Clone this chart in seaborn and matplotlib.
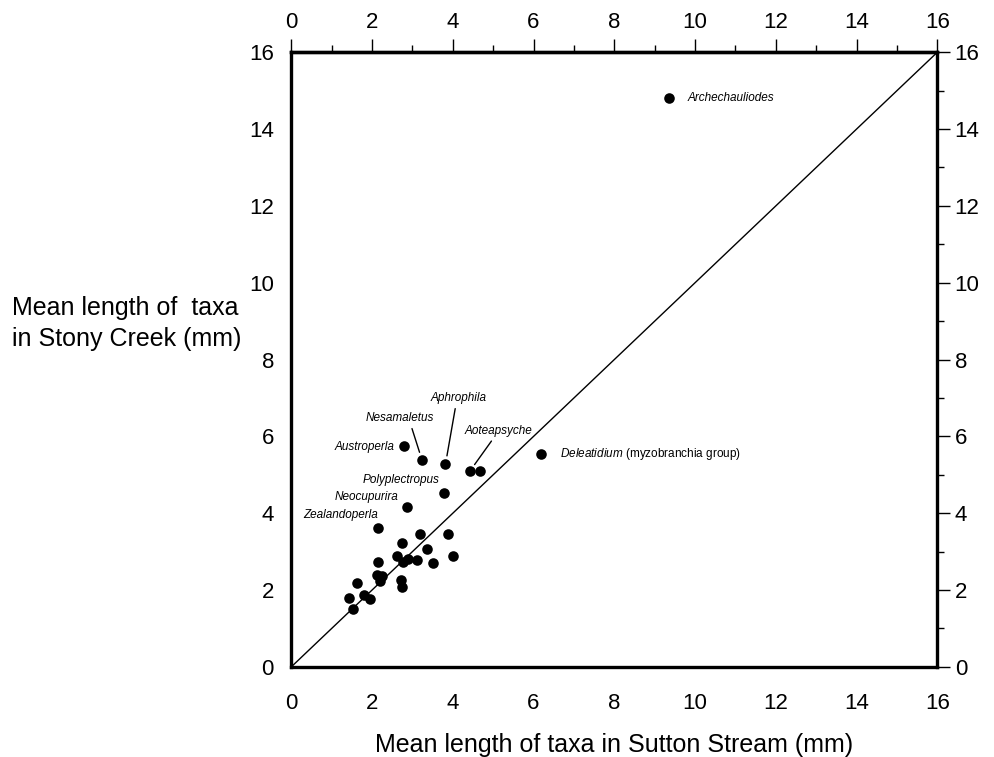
import numpy as np
import matplotlib
matplotlib.use("Agg")
import matplotlib.pyplot as plt
import seaborn as sns
from matplotlib.ticker import MultipleLocator

# mean length of each taxon (mm): Sutton Stream (x) vs Stony Creek (y)
taxa = [
    "Archechauliodes", "Deleatidium", "Austroperla", "Nesamaletus",
    "Aphrophila", "Aoteapsyche", "", "Polyplectropus", "Neocupurira",
    "Zealandoperla",
    "", "", "", "", "", "", "", "", "", "", "",
    "", "", "", "", "", "", "", "", "", "",
]
sutton = [
    9.36, 6.18, 2.79, 3.24, 3.82, 4.42, 4.67, 3.79, 2.86, 2.16,
    3.20, 3.87, 2.74, 3.37, 4.01, 2.62, 2.77, 2.88, 3.11, 3.50, 2.14,
    2.13, 2.24, 2.19, 2.72, 2.75, 1.63, 1.42, 1.80, 1.96, 1.54,
]
stony = [
    14.82, 5.55, 5.74, 5.38, 5.28, 5.09, 5.09, 4.54, 4.15, 3.62,
    3.46, 3.46, 3.22, 3.06, 2.90, 2.89, 2.72, 2.80, 2.78, 2.70, 2.73,
    2.40, 2.36, 2.24, 2.25, 2.08, 2.18, 1.80, 1.87, 1.78, 1.50,
]
line_x = [0, 16]
line_y = [0, 16]

sns.set_style("white")
plt.rcParams["font.family"] = ["Liberation Sans", "DejaVu Sans"]
plt.rcParams["mathtext.fontset"] = "custom"
plt.rcParams["mathtext.it"] = "Liberation Sans:italic"
plt.rcParams["mathtext.rm"] = "Liberation Sans"
for key in ["text.color", "axes.labelcolor", "xtick.color", "ytick.color",
            "xtick.labelcolor", "ytick.labelcolor"]:
    plt.rcParams[key] = "black"

fig = plt.figure(figsize=(9.94, 7.57), dpi=100)
ax = fig.add_axes([0.293, 0.119, 0.650, 0.812])

sns.lineplot(x=line_x, y=line_y, ax=ax, color="black", linewidth=1.0)
sns.scatterplot(x=sutton, y=stony, ax=ax, color="black", s=58,
                edgecolor="black", linewidth=0, zorder=3)

ax.set_xlim(0, 16)
ax.set_ylim(0, 16)
ax.xaxis.set_major_locator(MultipleLocator(2))
ax.xaxis.set_minor_locator(MultipleLocator(1))
ax.yaxis.set_major_locator(MultipleLocator(2))
ax.yaxis.set_minor_locator(MultipleLocator(1))
ax.tick_params(which="both", direction="out", top=False, right=True,
               labeltop=False, labelright=True, color="black",
               labelcolor="black")
ax.tick_params(which="major", length=9.5, width=1.0, labelsize=16)
ax.tick_params(which="minor", length=5, width=1.0)
ax.tick_params(axis="x", which="major", pad=9)
ax.tick_params(axis="y", which="major", pad=3)
for side in ["left", "right", "top", "bottom"]:
    ax.spines[side].set_color("black")
    ax.spines[side].set_linewidth(2.4)

# top axis has its own (smaller) label gap
top = ax.secondary_xaxis("top")
top.xaxis.set_major_locator(MultipleLocator(2))
top.xaxis.set_minor_locator(MultipleLocator(1))
top.tick_params(which="both", direction="out", color="black",
                labelcolor="black")
top.tick_params(which="major", length=9.5, width=1.0, labelsize=16, pad=4)
top.tick_params(which="minor", length=5, width=1.0)
top.spines["top"].set_linewidth(2.4)
top.spines["top"].set_color("black")
top.xaxis.get_offset_text().set_visible(False)
ax.xaxis.get_offset_text().set_visible(False)
ax.yaxis.get_offset_text().set_visible(False)

ax.set_xlabel("Mean length of taxa in Sutton Stream (mm)", fontsize=18,
              labelpad=14, color="black")
fig.text(0.012, 0.573, "Mean length of  taxa\nin Stony Creek (mm)",
         fontsize=18, ha="left", va="center", linespacing=1.35,
         color="black")

# labels for the named taxa
lab_style = dict(fontsize=8.5, style="italic", va="center", color="black")
line_style = dict(arrowstyle="-", color="black", lw=1.0,
                  shrinkA=1, shrinkB=6)
ax.annotate("Archechauliodes", xy=(sutton[0], stony[0]),
            xytext=(9.81, 14.82), ha="left", **lab_style)
ax.annotate(r"$\it{Deleatidium}$ (myzobranchia group)",
            xy=(sutton[1], stony[1]), xytext=(6.66, 5.55),
            ha="left", fontsize=8.5, va="center", color="black")
ax.annotate("Austroperla", xy=(sutton[2], stony[2]),
            xytext=(2.56, 5.73), ha="right", **lab_style)
ax.annotate("Nesamaletus", xy=(sutton[3], stony[3]),
            xytext=(2.70, 6.48), ha="center", **lab_style,
            arrowprops=dict(relpos=(0.65, 0.0), **line_style))
ax.annotate("Aphrophila", xy=(sutton[4], stony[4]),
            xytext=(4.15, 7.0), ha="center", **lab_style,
            arrowprops=dict(relpos=(0.45, 0.0), **line_style))
ax.annotate("Aoteapsyche", xy=(sutton[5], stony[5]),
            xytext=(5.12, 6.15), ha="center", **lab_style,
            arrowprops=dict(relpos=(0.45, 0.0), **line_style))
ax.annotate("Polyplectropus", xy=(sutton[7], stony[7]),
            xytext=(3.68, 4.87), ha="right", **lab_style)
ax.annotate("Neocupurira", xy=(sutton[8], stony[8]),
            xytext=(2.66, 4.43), ha="right", **lab_style)
ax.annotate("Zealandoperla", xy=(sutton[9], stony[9]),
            xytext=(2.14, 3.96), ha="right", **lab_style)

fig.savefig("out.png", dpi=100)
